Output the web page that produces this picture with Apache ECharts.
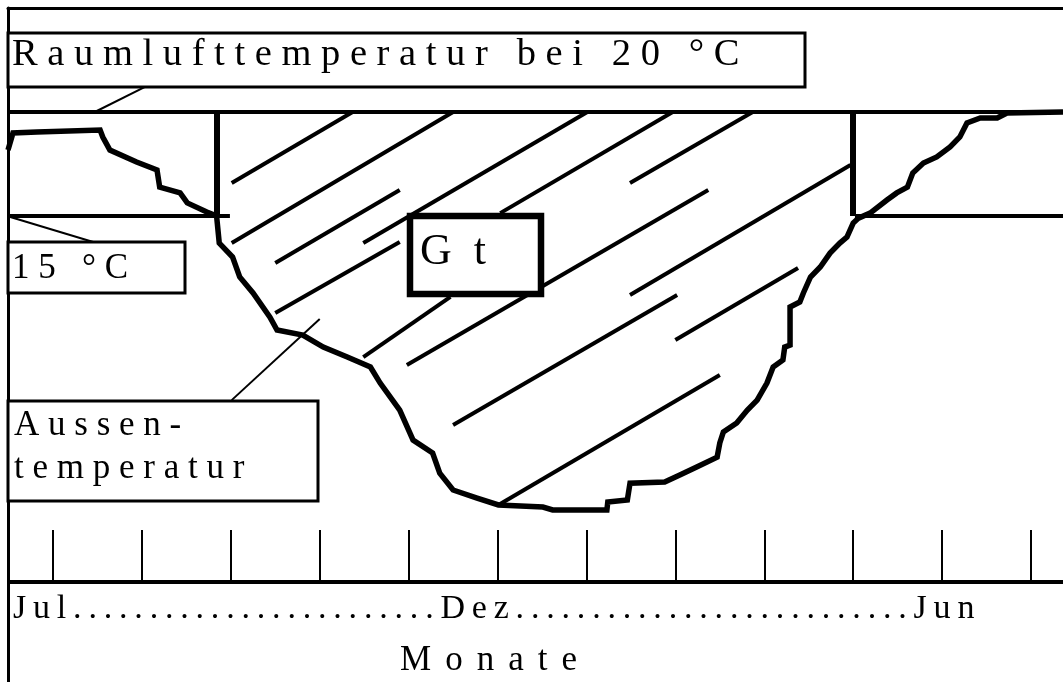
<!DOCTYPE html>
<html>
<head>
<meta charset="utf-8">
<script src="https://cdn.jsdelivr.net/npm/echarts@6/dist/echarts.min.js"></script>
<style>
  html, body { margin: 0; padding: 0; background: #fff; }
  #chart { width: 1063px; height: 682px; }
</style>
</head>
<body>
<div id="chart"></div>
<script>
// x = months counted from the first tick (Jul), y = temperature in °C
const months = [-0.506, -0.45, -0.18, 0.53, 0.56, 0.64, 0.94, 1.17, 1.20, 1.43, 1.51, 1.73, 1.84, 1.87,
  2.02, 2.10, 2.25, 2.44, 2.52, 2.81, 3.04, 3.31, 3.57, 3.68, 3.90, 4.05, 4.27, 4.35, 4.50, 4.77,
  5.01, 5.51, 5.62, 6.23, 6.24, 6.46, 6.49, 6.88, 7.05, 7.24, 7.47, 7.50, 7.54, 7.69, 7.81, 7.92,
  8.03, 8.10, 8.21, 8.23, 8.29, 8.29, 8.40, 8.44, 8.52, 8.63, 8.74, 8.85, 8.93, 9.00, 9.06, 9.19,
  9.38, 9.49, 9.61, 9.67, 9.79, 9.94, 10.09, 10.20, 10.28, 10.43, 10.62, 10.73, 11.36];
const outsideTemp = [18.17, 18.99, 19.04, 19.13, 18.80, 18.17, 17.60, 17.21, 16.39, 16.11, 15.63, 15.19, 15.0, 13.70,
  13.03, 12.07, 11.30, 10.14, 9.52, 9.28, 8.70, 8.22, 7.74, 6.97, 5.67, 4.23, 3.61, 2.64, 1.83, 1.44,
  1.11, 1.01, 0.87, 0.87, 1.25, 1.35, 2.16, 2.21, 2.55, 2.93, 3.41, 4.09, 4.62, 5.05, 5.67, 6.15,
  6.97, 7.74, 8.08, 8.70, 8.80, 10.63, 10.87, 11.30, 12.07, 12.55, 13.22, 13.70, 13.99, 14.66, 14.90, 15.14,
  15.77, 16.11, 16.39, 17.07, 17.55, 17.84, 18.32, 18.80, 19.47, 19.71, 19.71, 19.95, 20.0];

const roomTemp = 20;
const limitTemp = 15;
const heatStart = 1.845;   // Heizgrenze Herbst
const heatEnd = 8.99;      // Heizgrenze Frühjahr
const limitLeftEnd = 1.99;
const limitRightStart = 9.02;
const tickMonths = [0, 1, 2, 3, 4, 5, 6, 7, 8, 9, 10, 11];
const tickBase = -2.6;
const tickTop = -0.09;

// Schraffur Gt: [x1, y1, x2, y2]
const hatch = [
  [2.01, 16.59, 3.37, 20], [2.01, 13.70, 4.50, 20], [2.50, 12.74, 3.90, 16.25],
  [3.49, 13.70, 6.01, 20], [2.50, 10.34, 3.90, 13.75], [3.49, 8.22, 4.47, 11.11],
  [3.98, 7.84, 7.37, 16.25], [4.50, 4.95, 7.02, 11.20], [7.00, 9.04, 8.38, 12.50],
  [5.01, 1.11, 7.50, 7.36], [5.03, 15.14, 6.97, 20], [6.49, 16.59, 7.87, 20],
  [6.49, 11.20, 8.97, 17.45]
];
// Hinweislinien zu den Beschriftungen
const leaders = [[1.03, 21.20, 0.47, 20], [-0.48, 14.95, 0.49, 13.70], [2.01, 6.15, 3.00, 10.05]];

const X_MIN = -0.506, X_MAX = 11.36;
const FONT = '"Liberation Serif", "Times New Roman", serif';
const TS = '\u2009';

const chart = echarts.init(document.getElementById('chart'));

function seg(x1, y1, x2, y2) { return { coords: [[x1, y1], [x2, y2]] }; }

chart.setOption({
  animation: false,
  grid: { left: 8, right: 0, top: 8, bottom: 0 },
  xAxis: {
    type: 'value', position: 'top', min: X_MIN, max: X_MAX,
    axisLine: { show: true, onZero: false, lineStyle: { color: '#000', width: 3 } },
    axisTick: { show: false }, axisLabel: { show: false }, splitLine: { show: false }
  },
  yAxis: {
    type: 'value', min: -7.4, max: 25,
    axisLine: { show: true, onZero: false, lineStyle: { color: '#000', width: 3 } },
    axisTick: { show: false }, axisLabel: { show: false }, splitLine: { show: false }
  },
  series: [
    {
      type: 'lines', coordinateSystem: 'cartesian2d', z: 3,
      lineStyle: { color: '#000', width: 4, opacity: 1 },
      data: hatch.map(h => seg(h[0], h[1], h[2], h[3]))
    },
    {
      type: 'lines', coordinateSystem: 'cartesian2d', z: 3,
      lineStyle: { color: '#000', width: 2, opacity: 1 },
      data: leaders.map(h => seg(h[0], h[1], h[2], h[3]))
    },
    {
      type: 'lines', coordinateSystem: 'cartesian2d', z: 3,
      lineStyle: { color: '#000', width: 2, opacity: 1 },
      data: tickMonths.map(m => seg(m, tickBase, m, tickTop))
    },
    {
      type: 'lines', coordinateSystem: 'cartesian2d', z: 4,
      lineStyle: { color: '#000', width: 4, opacity: 1 },
      data: [
        seg(X_MIN, roomTemp, X_MAX, roomTemp),
        seg(X_MIN, limitTemp, limitLeftEnd, limitTemp),
        seg(limitRightStart, limitTemp, X_MAX, limitTemp),
        seg(X_MIN, tickBase, X_MAX, tickBase)
      ]
    },
    {
      type: 'lines', coordinateSystem: 'cartesian2d', z: 4,
      lineStyle: { color: '#000', width: 6, opacity: 1 },
      data: [seg(heatStart, roomTemp, heatStart, limitTemp), seg(heatEnd, roomTemp, heatEnd, limitTemp)]
    },
    {
      type: 'line', z: 5, symbol: 'none', clip: false,
      lineStyle: { color: '#000', width: 5.5, join: 'miter' },
      data: months.map((m, i) => [m, outsideTemp[i]])
    }
  ],
  graphic: [
    { type: 'rect', z: 100, shape: { x: 8, y: 33, width: 797, height: 54 },
      style: { fill: '#fff', stroke: '#000', lineWidth: 3 } },
    { type: 'text', z: 101, x: 12, y: 55,
      style: { text: 'R a u m l u f t t e m p e r a t u r   b e i   2 0   ° C', font: '38.5px ' + FONT, fill: '#000', verticalAlign: 'middle' } },

    { type: 'rect', z: 100, shape: { x: 8, y: 242, width: 177, height: 51 },
      style: { fill: '#fff', stroke: '#000', lineWidth: 3 } },
    { type: 'text', z: 101, x: 12, y: 269,
      style: { text: '1 5   ° C', font: '35px ' + FONT, fill: '#000', verticalAlign: 'middle' } },

    { type: 'rect', z: 100, shape: { x: 8, y: 401, width: 310, height: 100 },
      style: { fill: '#fff', stroke: '#000', lineWidth: 3 } },
    { type: 'text', z: 101, x: 14, y: 426,
      style: { text: 'A u s s e n -', font: '35px ' + FONT, fill: '#000', verticalAlign: 'middle' } },
    { type: 'text', z: 101, x: 14, y: 469,
      style: { text: 't e m p e r a t u r', font: '35px ' + FONT, fill: '#000', verticalAlign: 'middle' } },

    { type: 'rect', z: 100, shape: { x: 410, y: 216, width: 131, height: 78 },
      style: { fill: '#fff', stroke: '#000', lineWidth: 6.5 } },
    { type: 'text', z: 101, x: 420, y: 252,
      style: { text: 'G  t', font: '44px ' + FONT, fill: '#000', verticalAlign: 'middle' } },

    { type: 'text', z: 101, x: 13, y: 609,
      style: { text: ['J', 'u', 'l'].concat(Array(24).fill('.'), ['D', 'e', 'z'], Array(26).fill('.'), ['J', 'u', 'n']).join(TS),
        font: '34px ' + FONT, fill: '#000', verticalAlign: 'middle' } },
    { type: 'text', z: 101, x: 400, y: 661,
      style: { text: 'Monate'.split('').join(TS + TS), font: '35px ' + FONT, fill: '#000', verticalAlign: 'middle' } }
  ]
});
</script>
</body>
</html>
